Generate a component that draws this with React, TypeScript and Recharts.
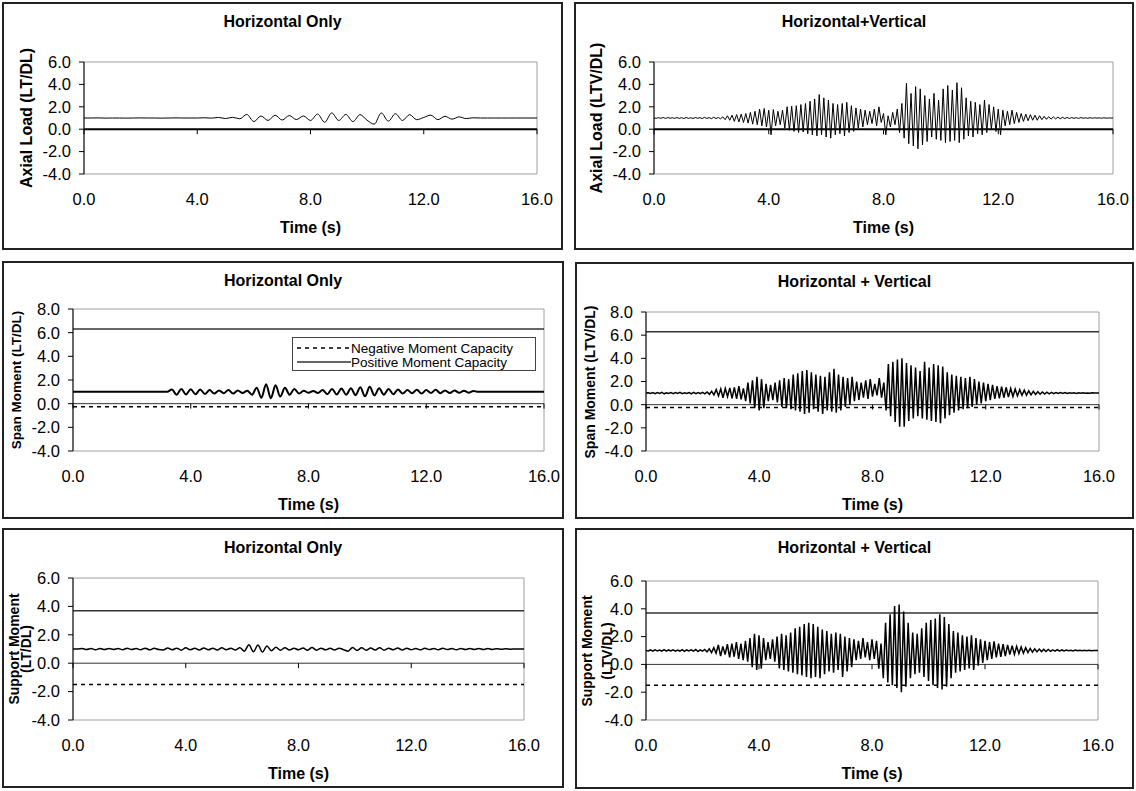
import React from "react";
import { LineChart, Line, XAxis, YAxis, ReferenceLine, ReferenceArea } from "recharts";

// shared axis ticks
const timeTicks = [0, 4, 8, 12, 16];
const axialTicks = [-4, -2, 0, 2, 4, 6];
const spanTicks = [-4, -2, 0, 2, 4, 6, 8];
const supportTicks = [-4, -2, 0, 2, 4, 6];

// capacity levels (normalised by dead load)
const spanPositiveCapacity = 6.3;
const spanNegativeCapacity = -0.25;
const supportPositiveCapacity = 3.7;
const supportNegativeCapacity = -1.5;

// sampling steps (s) of the digitised records
const axialHStep = 0.25;
const spanHStep = 0.16;
const supportHStep = 0.16;
const hvStep = 0.08;

// Axial load, horizontal only
const axialH = [
  1.0, 1.0, 1.01, 0.99, 1.0, 1.0, 0.99, 1.0, 1.01, 1.0, 1.0, 0.99, 1.0, 1.01, 1.0, 1.0, 1.0, 1.02, 0.99,
  1.05, 0.95, 1.06, 0.93, 1.32, 0.68, 1.18, 0.78, 1.25, 0.82, 1.22, 0.86, 1.18, 0.78, 1.35, 0.62, 1.45,
  0.78, 1.32, 0.68, 1.3, 0.8, 0.45, 1.45, 0.72, 1.38, 0.78, 1.3, 0.85, 1.05, 1.25, 0.85, 1.15, 0.9, 1.1,
  0.95, 1.02,
  1.0, 1.0, 1.0, 1.0, 1.0, 1.0, 1.0, 1.0, 1.0,
];

// Axial load, horizontal + vertical
const axialHV = [
  1.0, 0.98, 1.03, 0.97, 1.05, 0.96, 1.04, 0.98, 1.02, 0.97,
  1.04, 0.96, 1.03, 0.95, 1.05, 0.97, 1.02, 0.96, 1.04, 0.98,
  1.03, 0.95, 1.06, 0.96, 1.04, 0.94, 1.07, 0.95, 1.05, 0.93,
  1.1, 0.85, 1.2, 0.8, 1.25, 0.7, 1.3, 0.65, 1.35, 0.6,
  1.4, 0.55, 1.5, 0.45, 1.6, 0.4, 1.8, 0.3, 1.85, 0.2,
  1.7, -0.5, 1.75, 0.3, 1.6, 0.4, 1.7, 0.1, 2.0, -0.1,
  2.05, -0.2, 2.1, -0.3, 2.2, -0.25, 2.3, -0.4, 2.5, -0.5,
  2.7, -0.6, 3.1, -0.5, 2.8, -0.7, 2.6, -0.8, 2.3, -0.5,
  2.2, -0.4, 2.3, -0.6, 2.4, -0.3, 2.1, -0.2, 1.9, 0.1,
  1.8, 0.2, 1.7, 0.4, 1.6, 0.5, 1.8, 0.3, 2.0, 0.6,
  1.4, -0.5, 1.2, 0.2, 1.5, 0.4, 1.8, -0.3, 2.3, -0.8,
  4.1, -1.3, 3.2, -1.5, 3.8, -1.75, 3.6, -1.4, 3.0, -1.1,
  2.7, -0.7, 3.2, -0.9, 2.6, -1.0, 3.6, -1.2, 3.9, -1.1,
  3.5, -1.0, 4.15, -1.2, 3.7, -0.9, 2.8, -0.6, 2.5, -0.7,
  2.4, -0.4, 2.2, -0.5, 2.6, -0.3, 2.2, 0.0, 2.0, -0.2,
  1.8, -0.5, 1.7, 0.3, 1.6, 0.4, 1.7, 0.5, 1.5, 0.6,
  1.4, 0.7, 1.35, 0.75, 1.3, 0.8, 1.25, 0.8, 1.2, 0.85,
  1.15, 0.88, 1.12, 0.9, 1.1, 0.92, 1.08, 0.93, 1.06, 0.95,
  1.05, 0.96, 1.04, 0.97, 1.03, 0.96, 1.04, 0.98, 1.02, 0.97,
  1.03, 0.98, 1.02, 0.99, 1.01, 0.98, 1.02, 0.99, 1.0, 1.0, 1.0,
];

// Span moment, horizontal only
const spanH = [
  1.0, 1.0, 1.0, 1.0, 1.0, 1.0, 1.0, 1.0, 1.0, 1.0, 1.0, 1.0, 1.0, 1.0, 1.0, 1.0, 1.0, 1.0, 1.0, 1.0, 1.0,
  1.2, 0.75, 1.25, 0.78, 1.22, 0.8, 1.2, 0.82,
  1.15, 0.85, 1.12, 0.88, 1.15, 0.85, 1.12, 0.9, 1.1,
  0.75, 1.35, 0.5, 1.65, 0.45, 1.55, 0.6, 1.35,
  0.75, 1.25, 0.85,
  1.1, 0.92, 1.08, 0.9, 1.15,
  0.8, 1.25, 0.78, 1.28, 0.75, 1.3, 0.72, 1.38, 0.62, 1.42, 0.7, 1.3, 0.75,
  1.25, 0.8, 1.2, 0.85, 1.15, 0.88, 1.18, 0.85, 1.15, 0.9, 1.18, 0.88, 1.12, 0.9, 1.12, 0.92, 1.1, 0.93, 1.08,
  1.0, 1.0, 1.0, 1.0, 1.0, 1.0, 1.0, 1.0, 1.0, 1.0, 1.0, 1.0, 1.0, 1.0, 1.0,
];

// Span moment, horizontal + vertical
const spanHV = [
  1.0, 1.03, 0.97, 1.05, 0.95, 1.04, 0.97, 1.06, 0.94, 1.03,
  0.96, 1.05, 0.95, 1.04, 0.97, 1.06, 0.95, 1.03, 0.96, 1.05,
  0.94, 1.06, 0.95, 1.04, 0.96, 1.07, 0.93, 1.1, 0.9, 1.15,
  0.85, 1.3, 0.75, 1.35, 0.6, 1.4, 0.7, 1.45, 0.55, 1.5,
  0.5, 1.6, 0.45, 1.4, 0.3, 1.9, 0.1, 2.1, -0.3, 2.4,
  -0.5, 2.2, -0.3, 1.8, 0.3, 1.7, 0.4, 1.9, 0.2, 2.1,
  -0.2, 2.3, -0.3, 2.2, -0.4, 2.6, -0.5, 2.7, -0.6, 2.9,
  -0.8, 3.0, -0.7, 2.8, -0.4, 2.6, -0.6, 2.5, -0.8, 2.4,
  -0.5, 2.8, -0.6, 3.1, -0.7, 2.6, -0.5, 2.4, -0.2, 2.3,
  0.0, 2.4, 0.3, 2.0, 0.4, 1.9, 0.6, 2.1, 0.5, 2.2,
  0.7, 1.8, 0.8, 2.3, 0.6, 1.9, -0.5, 3.5, -1.0, 3.7,
  -1.5, 3.9, -1.9, 4.0, -1.9, 3.6, -1.4, 3.4, -1.2, 3.2,
  -1.0, 2.9, -1.2, 3.7, -1.3, 3.2, -1.4, 3.5, -1.5, 3.4,
  -1.6, 3.3, -1.2, 2.8, -0.9, 2.6, -0.7, 2.5, -0.5, 2.4,
  -0.4, 2.3, -0.3, 2.4, -0.2, 2.2, 0.0, 2.0, 0.1, 1.9,
  0.3, 1.8, 0.4, 1.7, 0.5, 1.6, 0.55, 1.55, 0.6, 1.5,
  0.65, 1.4, 0.7, 1.35, 0.75, 1.3, 0.8, 1.25, 0.82, 1.2,
  0.85, 1.15, 0.88, 1.12, 0.9, 1.1, 0.92, 1.08, 0.94, 1.06,
  0.95, 1.05, 0.96, 1.04, 0.97, 1.05, 0.96, 1.03, 0.98, 1.02,
  0.97, 1.03, 0.98, 1.02, 0.99, 1.01, 0.98, 1.02, 1.0, 1.0, 1.0,
];

// Support moment, horizontal only
const supportH = [
  1.0, 1.0, 1.04, 0.96, 1.03, 0.95, 1.04, 0.96, 1.03, 0.97,
  1.04, 0.95, 1.05, 0.96, 1.03, 0.95, 1.06, 0.94, 1.05, 0.96,
  0.93, 1.07, 0.94, 1.06, 0.92, 1.08, 0.95, 1.05, 0.93, 1.07,
  0.94, 1.06, 0.93, 1.08, 0.95, 1.05, 0.93, 1.08, 0.85, 1.3,
  0.8, 1.28, 0.78, 1.22, 0.88, 1.12, 0.92, 1.08, 0.93, 1.06,
  0.94, 1.07, 0.92, 1.1, 0.92, 1.06, 0.94, 1.05, 0.93, 1.06,
  0.95, 0.85, 1.1, 0.9, 1.08, 0.92, 1.07, 0.93, 1.08, 0.92,
  1.06, 0.94, 1.07, 0.93, 1.05, 0.95, 1.04, 0.94, 1.05, 0.96,
  1.04, 0.95, 1.05, 0.96, 1.04, 0.95, 1.03, 0.96, 1.04, 0.97,
  1.03, 0.96, 1.04, 0.97, 1.02, 0.98, 1.01, 0.99, 1.0, 1.0, 1.0,
];

// Support moment, horizontal + vertical
const supportHV = [
  1.0, 0.97, 1.04, 0.96, 1.05, 0.97, 1.03, 0.95, 1.06, 0.96,
  1.04, 0.97, 1.05, 0.95, 1.03, 0.96, 1.06, 0.94, 1.04, 0.97,
  1.05, 0.95, 1.07, 0.93, 1.05, 0.96, 1.08, 0.9, 1.12, 0.85,
  1.2, 0.8, 1.4, 0.6, 1.3, 0.7, 1.45, 0.5, 1.5, 0.55,
  1.6, 0.4, 1.5, 0.3, 1.7, 0.2, 1.9, -0.2, 2.2, -0.4,
  2.1, -0.3, 1.9, 0.3, 1.6, 0.4, 1.8, 0.2, 2.0, -0.3,
  2.2, -0.4, 2.1, -0.5, 2.3, -0.6, 2.6, -0.7, 2.7, -0.8,
  2.9, -0.9, 3.0, -1.0, 2.9, -0.9, 2.7, -1.0, 2.5, -0.7,
  2.4, -0.5, 2.2, -0.6, 2.3, -0.4, 2.2, -0.9, 2.0, -0.5,
  1.9, -0.2, 1.8, 0.3, 1.7, 0.4, 1.9, 0.5, 1.6, 0.3,
  1.8, 0.4, 1.7, -0.3, 1.5, -1.0, 3.0, -1.3, 3.6, -1.5,
  4.2, -1.7, 4.3, -2.0, 3.8, -1.6, 3.0, -1.0, 2.3, -0.7,
  2.2, -0.6, 2.6, -0.9, 3.0, -1.2, 3.2, -1.5, 3.3, -1.7,
  3.6, -1.8, 3.4, -1.6, 2.9, -1.0, 2.4, -0.6, 2.3, -0.5,
  2.1, -0.4, 2.0, -0.3, 2.1, -0.4, 1.9, -0.1, 1.8, 0.1,
  1.7, 0.3, 1.6, 0.4, 1.65, 0.5, 1.5, 0.55, 1.45, 0.6,
  1.4, 0.7, 1.35, 0.72, 1.3, 0.78, 1.25, 0.8, 1.2, 0.85,
  1.15, 0.88, 1.12, 0.9, 1.1, 0.92, 1.08, 0.93, 1.07, 0.94,
  1.05, 0.95, 1.06, 0.96, 1.04, 0.97, 1.03, 0.98, 1.02, 0.97,
  1.03, 0.98, 1.02, 0.99, 1.01, 0.98, 1.02, 0.99, 1.0, 1.0, 1.0,
];

const FONT = '"Liberation Sans", Arial, Helvetica, sans-serif';
const Y_AXIS_W = 40;
const X_AXIS_H = 20;
const TICK_FONT = 16.5;

function buildSeries(step: number, values: number[]) {
  return values.map((v, i) => ({ t: Math.round(i * step * 1000) / 1000, v }));
}

type Frame = { x: number; y: number; w: number; h: number };
type Plot = { x0: number; y0: number; x1: number; y1: number };

type PanelDef = {
  title: string;
  yLabel: string[];
  yLabelX: number[];
  yLabelSize: number;
  frame: Frame;
  plot: Plot;
  domain: [number, number];
  ticks: number[];
  data: { t: number; v: number }[];
  curve: "monotone" | "linear";
  strokeWidth: number;
  zeroWidth: number;
  zeroColor: string;
  tickDepth: number;
  positive?: number;
  negative?: number;
  legend?: boolean;
};

const panels: PanelDef[] = [
  {
    title: "Horizontal Only",
    yLabel: ["Axial Load (LT/DL)"],
    yLabelX: [27],
    yLabelSize: 16,
    frame: { x: 2, y: 2, w: 561, h: 248 },
    plot: { x0: 84, y0: 62, x1: 537, y1: 174 },
    domain: [-4, 6],
    ticks: axialTicks,
    data: buildSeries(axialHStep, axialH),
    curve: "monotone",
    strokeWidth: 1,
    zeroWidth: 2,
    zeroColor: "#000",
    tickDepth: 0.45,
  },
  {
    title: "Horizontal+Vertical",
    yLabel: ["Axial Load (LTV/DL)"],
    yLabelX: [597],
    yLabelSize: 16,
    frame: { x: 574, y: 2, w: 560, h: 248 },
    plot: { x0: 654, y0: 62, x1: 1113, y1: 174 },
    domain: [-4, 6],
    ticks: axialTicks,
    data: buildSeries(hvStep, axialHV),
    curve: "linear",
    strokeWidth: 1,
    zeroWidth: 2,
    zeroColor: "#000",
    tickDepth: 0.45,
  },
  {
    title: "Horizontal Only",
    yLabel: ["Span Moment (LT/DL)"],
    yLabelX: [17],
    yLabelSize: 13.5,
    frame: { x: 2, y: 261, w: 562, h: 258 },
    plot: { x0: 73, y0: 309, x1: 544, y1: 451 },
    domain: [-4, 8],
    ticks: spanTicks,
    data: buildSeries(spanHStep, spanH),
    curve: "monotone",
    strokeWidth: 2,
    zeroWidth: 1,
    zeroColor: "#333",
    tickDepth: 0.42,
    positive: spanPositiveCapacity,
    negative: spanNegativeCapacity,
    legend: true,
  },
  {
    title: "Horizontal + Vertical",
    yLabel: ["Span Moment (LTV/DL)"],
    yLabelX: [590],
    yLabelSize: 14,
    frame: { x: 575, y: 262, w: 559, h: 257 },
    plot: { x0: 646, y0: 312, x1: 1099, y1: 451 },
    domain: [-4, 8],
    ticks: spanTicks,
    data: buildSeries(hvStep, spanHV),
    curve: "linear",
    strokeWidth: 1.5,
    zeroWidth: 1,
    zeroColor: "#333",
    tickDepth: 0.42,
    positive: spanPositiveCapacity,
    negative: spanNegativeCapacity,
  },
  {
    title: "Horizontal Only",
    yLabel: ["Support Moment", "(LT/DL)"],
    yLabelX: [14, 26],
    yLabelSize: 14,
    frame: { x: 2, y: 528, w: 562, h: 260 },
    plot: { x0: 73, y0: 578, x1: 524, y1: 720 },
    domain: [-4, 6],
    ticks: supportTicks,
    data: buildSeries(supportHStep, supportH),
    curve: "monotone",
    strokeWidth: 1.5,
    zeroWidth: 1,
    zeroColor: "#333",
    tickDepth: 0.35,
    positive: supportPositiveCapacity,
    negative: supportNegativeCapacity,
  },
  {
    title: "Horizontal + Vertical",
    yLabel: ["Support Moment", "(LTV/DL)"],
    yLabelX: [587, 607],
    yLabelSize: 14,
    frame: { x: 575, y: 528, w: 559, h: 261 },
    plot: { x0: 646, y0: 581, x1: 1098, y1: 720 },
    domain: [-4, 6],
    ticks: supportTicks,
    data: buildSeries(hvStep, supportHV),
    curve: "linear",
    strokeWidth: 1.5,
    zeroWidth: 1,
    zeroColor: "#333",
    tickDepth: 0.35,
    positive: supportPositiveCapacity,
    negative: supportNegativeCapacity,
  },
];

const TimeTick = (props: any) => {
  const { x, y, payload } = props;
  return (
    <text x={x} y={y + 25} textAnchor="middle" dominantBaseline="central" fontSize={TICK_FONT} fill="#000">
      {Number(payload.value).toFixed(1)}
    </text>
  );
};

function Legend() {
  const row = { display: "flex", alignItems: "center", height: 14 } as const;
  return (
    <div
      style={{
        position: "absolute",
        left: 292,
        top: 337,
        width: 244,
        height: 34,
        boxSizing: "border-box",
        border: "1px solid #444",
        background: "#fff",
        paddingTop: 3,
        fontSize: 13.5,
      }}
    >
      <div style={row}>
        <svg width={58} height={14}>
          <line x1={4} y1={7} x2={58} y2={7} stroke="#000" strokeWidth={1.5} strokeDasharray="4 4" />
        </svg>
        <span>Negative Moment Capacity</span>
      </div>
      <div style={row}>
        <svg width={58} height={14}>
          <line x1={4} y1={7} x2={58} y2={7} stroke="#333" strokeWidth={1.5} />
        </svg>
        <span>Positive Moment Capacity</span>
      </div>
    </div>
  );
}

function Panel({ p }: { p: PanelDef }) {
  const { frame, plot } = p;
  const margin = {
    top: plot.y0 - frame.y,
    right: frame.x + frame.w - plot.x1,
    bottom: frame.y + frame.h - plot.y1 - X_AXIS_H,
    left: plot.x0 - frame.x - Y_AXIS_W,
  };
  const midY = (plot.y0 + plot.y1) / 2;
  return (
    <>
      <div
        style={{
          position: "absolute",
          left: frame.x,
          top: frame.y,
          width: frame.w,
          height: frame.h,
          boxSizing: "border-box",
          border: "2px solid #222",
        }}
      />
      <div style={{ position: "absolute", left: frame.x, top: frame.y }}>
        <LineChart width={frame.w} height={frame.h} data={p.data} margin={margin}>
          <ReferenceArea
            x1={0}
            x2={16}
            y1={p.domain[0]}
            y2={p.domain[1]}
            fill="none"
            stroke="#a0a0a0"
            strokeWidth={1}
            ifOverflow="visible"
          />
          <XAxis
            dataKey="t"
            type="number"
            domain={[0, 16]}
            ticks={timeTicks}
            interval={0}
            axisLine={false}
            tickLine={false}
            tickSize={0}
            tickMargin={0}
            height={X_AXIS_H}
            tick={<TimeTick />}
            allowDataOverflow
          />
          <YAxis
            type="number"
            domain={p.domain}
            ticks={p.ticks}
            interval={0}
            width={Y_AXIS_W}
            axisLine={{ stroke: "#000", strokeWidth: 1 }}
            tickLine={{ stroke: "#000", strokeWidth: 1 }}
            tickSize={5}
            tickMargin={8}
            tick={{ fontSize: TICK_FONT, fill: "#000" }}
            tickFormatter={(v: number) => v.toFixed(1)}
            allowDataOverflow
          />
          <ReferenceLine y={0} stroke={p.zeroColor} strokeWidth={p.zeroWidth} />
          {timeTicks.map((t) => (
            <ReferenceLine
              key={"tk" + t}
              segment={[
                { x: t, y: 0 },
                { x: t, y: -p.tickDepth },
              ]}
              stroke="#000"
              strokeWidth={1}
            />
          ))}
          {p.positive !== undefined && (
            <ReferenceLine y={p.positive} stroke="#333" strokeWidth={1.5} />
          )}
          {p.negative !== undefined && (
            <ReferenceLine y={p.negative} stroke="#000" strokeWidth={1.5} strokeDasharray="4 4" />
          )}
          <Line
            dataKey="v"
            type={p.curve}
            stroke="#000"
            strokeWidth={p.strokeWidth}
            dot={false}
            isAnimationActive={false}
          />
        </LineChart>
      </div>
      <div
        style={{
          position: "absolute",
          left: frame.x,
          width: frame.w,
          top: frame.y + 10,
          lineHeight: "20px",
          textAlign: "center",
          fontWeight: "bold",
          fontSize: 16,
        }}
      >
        {p.title}
      </div>
      <div
        style={{
          position: "absolute",
          left: plot.x0,
          width: plot.x1 - plot.x0,
          top: plot.y1 + 44,
          lineHeight: "20px",
          textAlign: "center",
          fontWeight: "bold",
          fontSize: 16,
        }}
      >
        Time (s)
      </div>
      {p.yLabel.map((txt, i) => (
        <div
          key={txt}
          style={{
            position: "absolute",
            left: p.yLabelX[i],
            top: midY,
            transform: "translate(-50%, -50%) rotate(-90deg)",
            whiteSpace: "nowrap",
            fontWeight: "bold",
            fontSize: p.yLabelSize,
            lineHeight: 1,
          }}
        >
          {txt}
        </div>
      ))}
      {p.legend && <Legend />}
    </>
  );
}

export default function App() {
  return (
    <div
      style={{
        position: "absolute",
        left: 0,
        top: 0,
        width: 1136,
        height: 791,
        background: "#fff",
        fontFamily: FONT,
        color: "#000",
        overflow: "hidden",
      }}
    >
      {panels.map((p, i) => (
        <Panel key={i} p={p} />
      ))}
    </div>
  );
}
